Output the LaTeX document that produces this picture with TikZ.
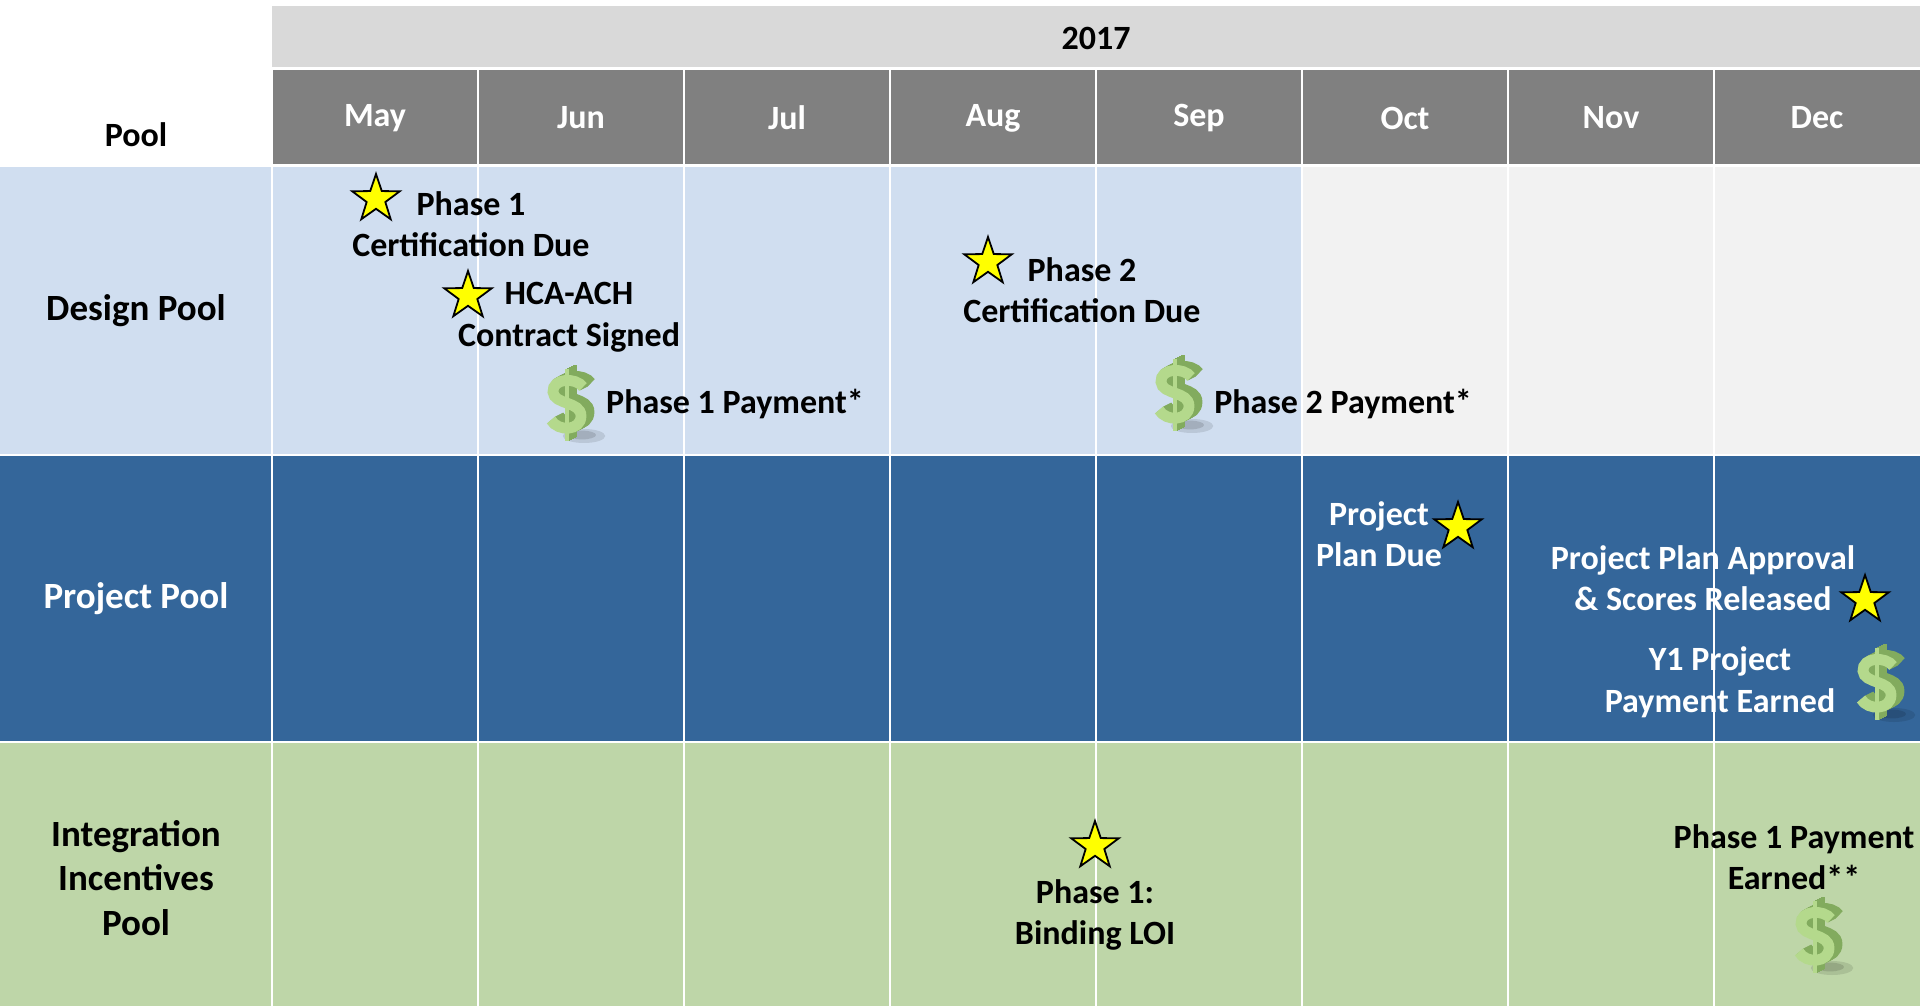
\documentclass[tikz,border=0pt]{standalone}
\usepackage{fontspec}
\setmainfont{Carlito}
\usetikzlibrary{shapes.geometric}
\definecolor{yearC}{HTML}{D9D9D9}
\definecolor{monthC}{HTML}{808080}
\definecolor{designC}{HTML}{D0DEF0}
\definecolor{paleC}{HTML}{F2F2F2}
\definecolor{projectC}{HTML}{34669A}
\definecolor{integC}{HTML}{BED6A8}
\definecolor{starC}{HTML}{FFFF00}
\definecolor{faceC}{HTML}{B4D98C}
\definecolor{sideC}{HTML}{82AB5E}
\tikzset{
  x=0.5pt,y=-0.5pt,
  cell/.style={draw=none,inner sep=0pt,outer sep=0pt,anchor=north west},
  lab/.style={font=\fontsize{17}{20.8}\selectfont\bfseries,align=center,inner sep=0pt},
  rowlab/.style={font=\fontsize{18.5}{22.4}\selectfont\bfseries,align=center,inner sep=0pt},
  headlab/.style={font=\fontsize{17}{20.8}\selectfont\bfseries,inner sep=0pt},
  starmark/.style={star,star points=5,star point ratio=2.55,minimum size=25pt,inner sep=0pt,
    draw=black,line width=0.9pt,fill=starC,miter limit=10},
  dollar/.pic={
    \fill[black,opacity=.10] (14,31) ellipse [x radius=17pt/1.6,y radius=3.5pt];
    \fill[black,opacity=.12] (12,30) ellipse [x radius=7pt,y radius=2.2pt];
    \foreach \s/\c in {8/sideC,7/sideC,6/sideC,5/sideC,4/sideC,3/sideC,2/sideC,1/sideC,0/faceC}{
      \begin{scope}[shift={(\s,-\s*0.5)},draw=\c,line cap=butt]
        \draw[line width=2.4pt] (-3,-36) -- (-3,36);
        \draw[line width=5.4pt] (13,-18) .. controls (6,-28) and (-18,-27) .. (-17,-13)
          .. controls (-16,0) and (11,-4) .. (11,11) .. controls (11,26) and (-12,27) .. (-19,15);
      \end{scope}
    }
  }
}
\begin{document}
\begin{tikzpicture}
\useasboundingbox (0,0) rectangle (1920,1006);
% year band
\node[cell,fill=yearC,minimum width=1648*0.5pt,minimum height=61*0.5pt] (year) at (272,6) {};
\node[headlab] (yeart) at (1096,38) {2017};
% pool header
\node[headlab] (pool) at (136,135) {Pool};
% month cells
\foreach \i/\m in {0/May,1/Jun,2/Jul,3/Aug,4/Sep,5/Oct,6/Nov,7/Dec}{
  \pgfmathsetmacro{\xx}{272+\i*206}
  \node[cell,fill=monthC,minimum width=206*0.5pt,minimum height=94*0.5pt] (m\i) at (\xx,70) {};
  \node[headlab,text=white] (mt\i) at (\xx+103,118) {\m};
}
% row title cells
\node[cell,fill=designC,minimum width=272*0.5pt,minimum height=289*0.5pt] (r1) at (0,166) {};
\node[cell,fill=projectC,minimum width=272*0.5pt,minimum height=288*0.5pt] (r2) at (0,455) {};
\node[cell,fill=integC,minimum width=272*0.5pt,minimum height=263*0.5pt] (r3) at (0,743) {};
% body cells
\foreach \i in {0,...,7}{
  \pgfmathsetmacro{\xx}{272+\i*206}
  \pgfmathsetmacro{\dc}{\i<5 ? 1 : 0}
  \ifnum\i<5 \def\cc{designC}\else\def\cc{paleC}\fi
  \node[cell,fill=\cc,minimum width=206*0.5pt,minimum height=289*0.5pt] (a\i) at (\xx,166) {};
  \node[cell,fill=projectC,minimum width=206*0.5pt,minimum height=288*0.5pt] (b\i) at (\xx,455) {};
  \node[cell,fill=integC,minimum width=206*0.5pt,minimum height=263*0.5pt] (c\i) at (\xx,743) {};
}
% white grid
\foreach \i in {0,...,7}{
  \pgfmathsetmacro{\xx}{272+\i*206}
  \coordinate (gt\i) at (\xx,70);
  \coordinate (gb\i) at (\xx,1006);
  \draw[white,line width=1.3pt] (gt\i) -- (gb\i);
}
\coordinate (h0l) at (272,68); \coordinate (h0r) at (1920,68);
\coordinate (h1l) at (0,165.5); \coordinate (h1r) at (1920,165.5);
\coordinate (h2l) at (0,455); \coordinate (h2r) at (1920,455);
\coordinate (h3l) at (0,742); \coordinate (h3r) at (1920,742);
\draw[white,line width=1.3pt] (h0l) -- (h0r);
\draw[white,line width=1.3pt] (h1l) -- (h1r);
\draw[white,line width=1.3pt] (h2l) -- (h2r);
\draw[white,line width=1.3pt] (h3l) -- (h3r);
% row labels
\node[rowlab] (l1) at (136,311) {Design Pool};
\node[rowlab,text=white] (l2) at (136,599) {Project Pool};
\node[rowlab] (l3) at (136,878) {Integration\\Incentives\\Pool};
% stars
\node[starmark] (s1) at (376,199) {};
\node[starmark] (s2) at (468,296) {};
\node[starmark] (s3) at (988,262) {};
\node[starmark] (s4) at (1458,527) {};
\node[starmark] (s5) at (1865,600) {};
\node[starmark] (s6) at (1095,846) {};
% dollars
\pic (d1) at (570,405) {dollar};
\pic (d2) at (1178,395) {dollar};
\pic (d3) at (1880,684) {dollar};
\pic (d4) at (1818,937) {dollar};
% event texts
\node[lab] (t1) at (471,224) {Phase 1\\Certification Due};
\node[lab] (t2) at (569,317) {HCA-ACH\\Contract Signed};
\node[lab] (t3) at (735,404) {Phase 1 Payment*};
\node[lab] (t4) at (1082,290) {Phase 2\\Certification Due};
\node[lab] (t5) at (1343,404) {Phase 2 Payment*};
\node[lab,text=white] (t6) at (1379,534) {Project\\Plan Due};
\node[lab,text=white] (t7) at (1703,578) {Project Plan Approval\\\& Scores Released};
\node[lab,text=white] (t8) at (1720,682) {Y1 Project\\Payment Earned};
\node[lab] (t9) at (1095,915) {Phase 1:\\Binding LOI};
\node[lab] (t10) at (1794,857) {Phase 1 Payment\\Earned**};
\end{tikzpicture}
\end{document}
